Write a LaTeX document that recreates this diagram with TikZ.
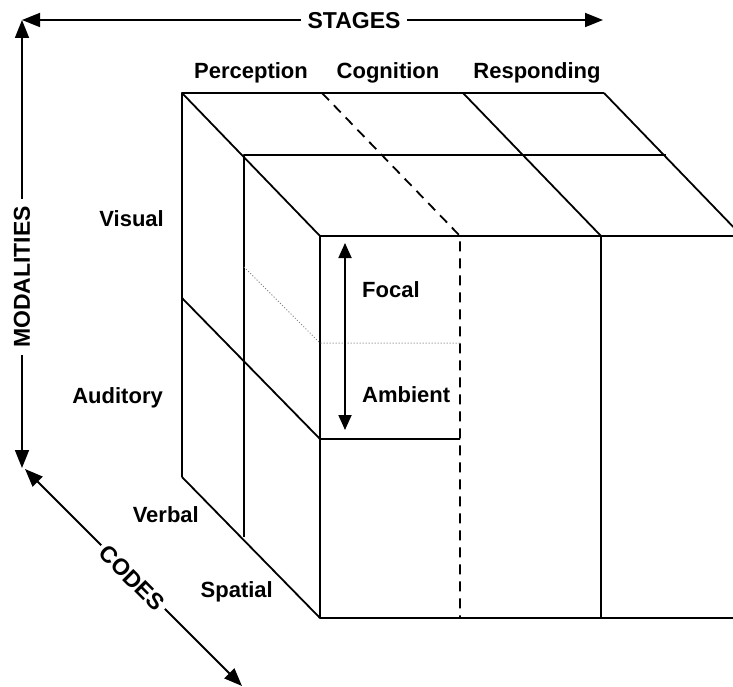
\documentclass[tikz,border=0pt]{standalone}
\usepackage{fontspec}
\setmainfont{Liberation Sans}
\usetikzlibrary{arrows.meta}

\tikzset{
  lbl/.style={font=\fontsize{22}{26}\selectfont\bfseries, inner sep=0pt},
  axislbl/.style={font=\fontsize{23}{27}\selectfont\bfseries, fill=white, inner xsep=7pt, inner ysep=2pt},
  edge/.style={line width=1.8pt},
  axis/.style={line width=1.8pt, {Triangle[length=18pt,width=14pt]}-{Triangle[length=18pt,width=14pt]}},
  span/.style={line width=1.8pt, {Triangle[length=15pt,width=13pt]}-{Triangle[length=15pt,width=13pt]}},
}

\begin{document}
\begin{tikzpicture}[x=1pt,y=-1pt,line join=round]
\useasboundingbox (0,0) rectangle (733,687);
\clip (0,0) rectangle (733,687);
% axes
\coordinate (corner) at (22,20);
\coordinate (stagesend) at (603,20);
\coordinate (modend) at (22,468);
\coordinate (codesstart) at (25,469);
\coordinate (codesend) at (242,686);
\draw[axis] (corner) -- (stagesend);
\draw[axis] (corner) -- (modend);
\draw[axis] (codesstart) -- (codesend);
\node[axislbl] (stages) at (354,21) {STAGES};
\node[axislbl,rotate=90] (modalities) at (22,277) {MODALITIES};
\node[axislbl,rotate=-45,inner xsep=4pt] (codes) at (132,578) {CODES};
% back face and side face
\draw[edge] (604,93) -- (182,93) -- (182,477);
\draw[edge] (182,93) -- (320,236);
\draw[edge] (182,298) -- (320,439) -- (460,439);
\draw[edge] (182,477) -- (320,618);
% middle layer (verbal / spatial)
\draw[edge] (244,537) -- (244,155) -- (666,155);
% stage dividers on top
\draw[edge,dash pattern=on 10pt off 7pt] (322,93) -- (460,236) -- (460,618);
\draw[edge] (463,93) -- (601,236) -- (601,618);
\draw[edge] (604,93) -- (742,236);
% front face
\draw[edge] (742,236) -- (320,236) -- (320,618) -- (742,618);
% focal / ambient split
\draw[gray,line width=1pt,dotted] (244,267) -- (320,343) -- (460,343);
\coordinate (focaltop) at (345,243);
\coordinate (ambientbot) at (345,430);
\draw[span] (focaltop) -- (ambientbot);
% labels
\node[lbl,anchor=base] (perception) at (251,79) {Perception};
\node[lbl,anchor=base] (cognition) at (388,79) {Cognition};
\node[lbl,anchor=base] (responding) at (537,79) {Responding};
\node[lbl,anchor=base east] (visual) at (164,226) {Visual};
\node[lbl,anchor=base east] (auditory) at (163,403) {Auditory};
\node[lbl,anchor=base east] (verbal) at (199,522) {Verbal};
\node[lbl,anchor=base east] (spatial) at (273,597) {Spatial};
\node[lbl,anchor=base west] (focal) at (362,297) {Focal};
\node[lbl,anchor=base west] (ambient) at (362,402) {Ambient};
\end{tikzpicture}
\end{document}
